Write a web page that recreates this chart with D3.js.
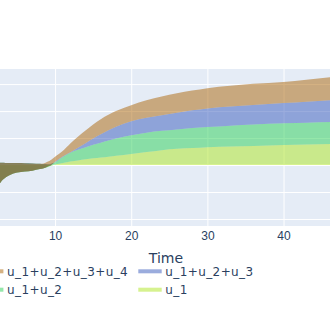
<!DOCTYPE html>
<html>
<head>
<meta charset="utf-8">
<script src="https://cdn.jsdelivr.net/npm/d3@7"></script>
<style>
  body { margin: 0; background: #fff; }
  svg { display: block; font-family: "DejaVu Sans", Verdana, sans-serif; }
  .tick text { fill: #2a3f5f; font-size: 12px; }
</style>
</head>
<body>
<div id="chart"></div>
<script>
// time points and the four cumulative series
const time = [2.5, 3, 3.5, 4, 5, 6, 7, 8, 8.5, 9, 9.5, 10, 11, 12, 13, 14, 15, 16, 17, 18, 20, 22, 24, 26, 28, 30, 33, 36, 40, 43, 47];
const u1 = [-0.8, -0.58, -0.46, -0.38, -0.28, -0.24, -0.21, -0.15, -0.12, -0.07, -0.02, 0.02, 0.08, 0.13, 0.17, 0.21, 0.25, 0.28, 0.31, 0.34, 0.41, 0.48, 0.55, 0.6, 0.63, 0.66, 0.69, 0.71, 0.74, 0.76, 0.78];
const u12 = [0.09, 0.085, 0.08, 0.08, 0.075, 0.07, 0.06, 0.045, 0.035, 0.03, 0.05, 0.1, 0.3, 0.46, 0.57, 0.66, 0.75, 0.83, 0.91, 0.98, 1.1, 1.2, 1.27, 1.32, 1.37, 1.41, 1.46, 1.5, 1.55, 1.57, 1.6];
const u123 = [-0.8, -0.58, -0.46, -0.38, -0.28, -0.24, -0.21, -0.15, -0.12, -0.05, 0.0, 0.12, 0.32, 0.47, 0.64, 0.81, 0.98, 1.14, 1.29, 1.42, 1.62, 1.75, 1.85, 1.94, 2.03, 2.1, 2.17, 2.23, 2.3, 2.35, 2.42];
const u1234 = [0.09, 0.085, 0.08, 0.08, 0.075, 0.07, 0.06, 0.05, 0.06, 0.12, 0.2, 0.31, 0.52, 0.8, 1.05, 1.28, 1.5, 1.7, 1.86, 2.0, 2.22, 2.4, 2.54, 2.66, 2.76, 2.85, 2.94, 3.01, 3.08, 3.16, 3.28];

const seriesNames = ['u_1', 'u_1+u_2', 'u_1+u_2+u_3', 'u_1+u_2+u_3+u_4'];
const seriesValues = [u1, u12, u123, u1234];
const seriesColors = ['rgb(173,230,32)', 'rgb(43,208,86)', 'rgb(55,90,188)', 'rgb(171,100,6)'];

const xTicks = [10, 20, 30, 40];
const yGrid = [-2, -1, 1, 2, 3];
const xTitle = 'Time';

// legend order as shown (row by row)
const legendOrder = [3, 2, 1, 0];

const width = 330;
const height = 310;
const plot = { top: 69, bottom: 226, left: 0, right: 330 };

const svg = d3.select('#chart')
  .append('svg')
  .attr('width', width)
  .attr('height', height);

const x = d3.scaleLinear().domain([2.77, 46.1]).range([plot.left, plot.right]);
const y = d3.scaleLinear().domain([-2.26, 3.56]).range([plot.bottom, plot.top]);

svg.append('defs').append('clipPath').attr('id', 'clip')
  .append('rect')
  .attr('x', plot.left).attr('y', plot.top)
  .attr('width', plot.right - plot.left).attr('height', plot.bottom - plot.top);

// background
svg.append('rect')
  .attr('x', plot.left).attr('y', plot.top)
  .attr('width', plot.right - plot.left).attr('height', plot.bottom - plot.top)
  .attr('fill', '#e5ecf6');

// vertical gridlines
svg.append('g')
  .attr('transform', `translate(0, ${plot.bottom})`)
  .call(d3.axisBottom(x).tickValues(xTicks).tickFormat('').tickSize(-(plot.bottom - plot.top)))
  .call((g) => g.select('.domain').remove())
  .call((g) => g.selectAll('line').attr('stroke', '#fff').attr('stroke-width', 1));

// horizontal gridlines
svg.append('g')
  .attr('transform', `translate(${plot.left}, 0)`)
  .call(d3.axisLeft(y).tickValues(yGrid).tickFormat('').tickSize(-(plot.right - plot.left)))
  .call((g) => g.select('.domain').remove())
  .call((g) => g.selectAll('line').attr('stroke', '#fff').attr('stroke-width', 1));

// zero line
svg.append('line')
  .attr('x1', plot.left).attr('x2', plot.right)
  .attr('y1', y(0)).attr('y2', y(0))
  .attr('stroke', '#fff').attr('stroke-width', 2);

// stacked fills, each one to the previous trace (first to zero)
const fills = svg.append('g').attr('clip-path', 'url(#clip)');
seriesValues.forEach((vals, i) => {
  const prev = i === 0 ? null : seriesValues[i - 1];
  const area = d3.area()
    .curve(d3.curveMonotoneX)
    .x((d, j) => x(time[j]))
    .y0((d, j) => y(prev ? prev[j] : 0))
    .y1((d) => y(d));
  fills.append('path')
    .datum(vals)
    .attr('d', area)
    .attr('fill', seriesColors[i])
    .attr('fill-opacity', 0.5);
});

// x tick labels
svg.append('g')
  .attr('transform', `translate(0, ${plot.bottom})`)
  .call(d3.axisBottom(x).tickValues(xTicks).tickSize(0).tickPadding(5))
  .call((g) => g.select('.domain').remove());

// axis title
svg.append('text')
  .attr('x', 166)
  .attr('y', 263)
  .attr('text-anchor', 'middle')
  .attr('fill', '#2a3f5f')
  .style('font-size', '14px')
  .text(xTitle);

// legend
const legendCols = [-20, 138.3];
const legendRows = [269.3, 287.7];
const legend = svg.append('g');
legendOrder.forEach((si, k) => {
  const col = k % 2;
  const row = Math.floor(k / 2);
  const gx = legendCols[col];
  const gy = legendRows[row];
  legend.append('rect')
    .attr('x', gx).attr('y', gy)
    .attr('width', 23.4).attr('height', 4)
    .attr('fill', seriesColors[si])
    .attr('fill-opacity', 0.5);
  legend.append('text')
    .attr('x', gx + 27)
    .attr('y', gy + 6.6)
    .attr('fill', '#2a3f5f')
    .style('font-size', '12px')
    .style('letter-spacing', '0.4px')
    .text(seriesNames[si]);
});
</script>
</body>
</html>
